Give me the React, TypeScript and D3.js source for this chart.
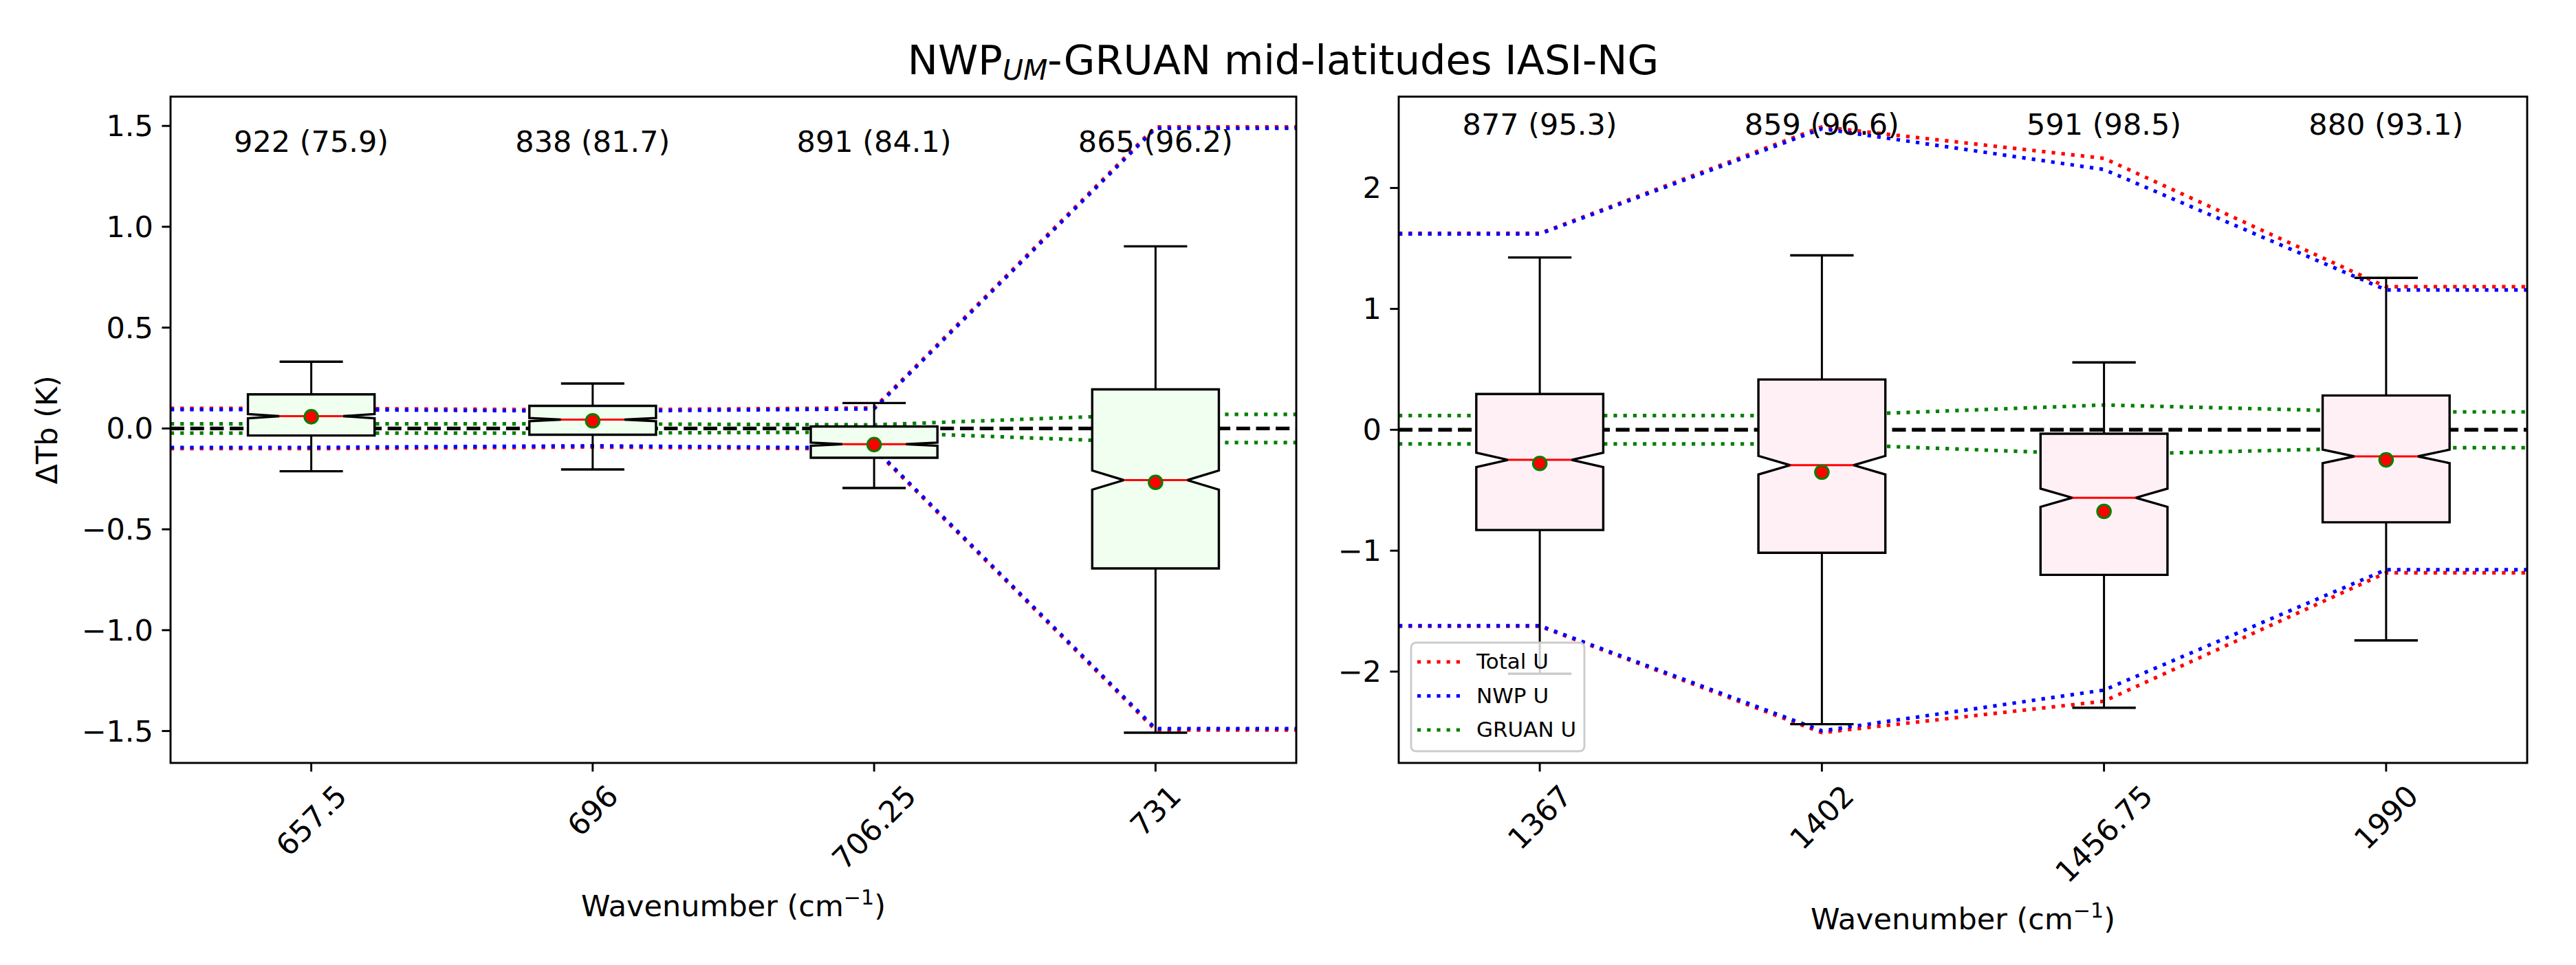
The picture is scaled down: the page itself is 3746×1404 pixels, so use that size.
import React from 'react';
import * as d3 from 'd3';

// ---------------- data ----------------
const leftCategories = ['657.5', '696', '706.25', '731'];
const leftCounts = [922, 838, 891, 865];
const leftPercent = [75.9, 81.7, 84.1, 96.2];
const leftWhiskerHigh = [0.331, 0.223, 0.126, 0.903];
const leftQ3 = [0.169, 0.112, 0.01, 0.194];
const leftMedian = [0.061, 0.044, -0.078, -0.256];
const leftMean = [0.058, 0.038, -0.08, -0.267];
const leftQ1 = [-0.035, -0.031, -0.145, -0.694];
const leftWhiskerLow = [-0.212, -0.203, -0.295, -1.508];
const leftTotalU = [0.1, 0.092, 0.102, 1.495];
const leftNwpU = [0.094, 0.086, 0.097, 1.488];
const leftGruanU = [0.023, 0.023, 0.018, 0.07];
const leftYTicks = [-1.5, -1.0, -0.5, 0.0, 0.5, 1.0, 1.5];

const rightCategories = ['1367', '1402', '1456.75', '1990'];
const rightCounts = [877, 859, 591, 880];
const rightPercent = [95.3, 96.6, 98.5, 93.1];
const rightWhiskerHigh = [1.425, 1.443, 0.557, 1.257];
const rightQ3 = [0.296, 0.416, -0.032, 0.284];
const rightMedian = [-0.249, -0.293, -0.562, -0.22];
const rightMean = [-0.278, -0.351, -0.675, -0.249];
const rightQ1 = [-0.829, -1.017, -1.2, -0.765];
const rightWhiskerLow = [-2.018, -2.435, -2.299, -1.742];
const rightTotalU = [1.625, 2.505, 2.245, 1.183];
const rightNwpU = [1.62, 2.49, 2.153, 1.157];
const rightGruanU = [0.117, 0.117, 0.205, 0.148];
const rightYTicks = [-2, -1, 0, 1, 2];

const titleMain = 'NWP';
const titleSub = 'UM';
const titleRest = '-GRUAN mid-latitudes IASI-NG';
const xLabelText = 'Wavenumber (cm';
const yLabelText = '\u0394Tb (K)';
const legendLabels = ['Total U', 'NWP U', 'GRUAN U'];

// ---------------- styling ----------------
const FONT = '"DejaVu Sans", Verdana, sans-serif';
const TICK_FS = 43;
const W = 3746;
const H = 1404;
const TOP = 140.6;
const BOTTOM = 1110;
const TICK_LEN = 12.6;
const TICK_PAD = 12.6;
const SPINE_W = 2.9;
const COL_TOTAL = '#ff0000';
const COL_NWP = '#0000ff';
const COL_GRUAN = '#008000';
const DOT = '5.2 9.0';

let _canvas: HTMLCanvasElement | null = null;
function textWidth(s: string, size: number): number {
  if (typeof document === 'undefined') return s.length * size * 0.6;
  if (!_canvas) _canvas = document.createElement('canvas');
  const ctx = _canvas.getContext('2d');
  if (!ctx) return s.length * size * 0.6;
  ctx.font = `${size}px "DejaVu Sans"`;
  return ctx.measureText(s).width;
}

const minus = (s: string) => s.replace(/-/g, '\u2212');

type PanelProps = {
  id: string;
  x0: number;
  x1: number;
  cats: string[];
  counts: number[];
  pct: number[];
  wh: number[];
  q3: number[];
  med: number[];
  mean: number[];
  q1: number[];
  wl: number[];
  total: number[];
  nwp: number[];
  gruan: number[];
  yTicks: number[];
  yFmt: (v: number) => string;
  fill: string;
  annotY: number;
  showYLabel: boolean;
  showLegend: boolean;
};

function Panel(p: PanelProps) {
  const x = d3.scaleLinear().domain([0.5, 4.5]).range([p.x0, p.x1]);
  const lo = d3.min([...p.wl, ...p.total.map((v) => -v)]) as number;
  const hi = d3.max([...p.wh, ...p.total]) as number;
  const pad = (hi - lo) * 0.05;
  const y = d3.scaleLinear().domain([lo - pad, hi + pad]).range([BOTTOM, TOP]);

  const boxW = 0.45;
  const half = boxW / 2;
  const capHalf = boxW / 4;

  const line = d3
    .line<[number, number]>()
    .x((d) => x(d[0]))
    .y((d) => y(d[1]));
  const pts = (vals: number[], sign: number): [number, number][] => [
    [0.5, sign * vals[0]],
    ...vals.map((v, i) => [i + 1, sign * v] as [number, number]),
    [4.5, sign * vals[vals.length - 1]],
  ];

  const series = [
    { vals: p.total, color: COL_TOTAL },
    { vals: p.nwp, color: COL_NWP },
    { vals: p.gruan, color: COL_GRUAN },
  ];

  const labelWidths = p.cats.map((c) => textWidth(c, TICK_FS));
  const labelTop = BOTTOM + TICK_LEN + TICK_PAD;
  const maxBottom = d3.max(labelWidths.map((w) => labelTop + (w + TICK_FS) / Math.SQRT2)) as number;
  const xLabelY = maxBottom + 61;
  const cx = (p.x0 + p.x1) / 2;

  return (
    <g>
      <defs>
        <clipPath id={`clip-${p.id}`}>
          <rect x={p.x0} y={TOP} width={p.x1 - p.x0} height={BOTTOM - TOP} />
        </clipPath>
      </defs>
      <g clipPath={`url(#clip-${p.id})`}>
        <line x1={p.x0} x2={p.x1} y1={y(0)} y2={y(0)} stroke="#000" strokeWidth={5.4} strokeDasharray="20 8.7" />
        {series.map((s, si) =>
          [1, -1].map((sign) => (
            <path
              key={`${si}-${sign}`}
              d={line(pts(s.vals, sign)) || ''}
              fill="none"
              stroke={s.color}
              strokeWidth={5.2}
              strokeDasharray={DOT}
            />
          ))
        )}
        {p.cats.map((c, i) => {
          const pos = i + 1;
          const iqr = p.q3[i] - p.q1[i];
          const nh = p.med[i] + (1.57 * iqr) / Math.sqrt(p.counts[i]);
          const nl = p.med[i] - (1.57 * iqr) / Math.sqrt(p.counts[i]);
          const L = x(pos - half);
          const R = x(pos + half);
          const mL = x(pos - capHalf);
          const mR = x(pos + capHalf);
          const d = [
            `M${L},${y(p.q1[i])}`,
            `L${R},${y(p.q1[i])}`,
            `L${R},${y(nl)}`,
            `L${mR},${y(p.med[i])}`,
            `L${R},${y(nh)}`,
            `L${R},${y(p.q3[i])}`,
            `L${L},${y(p.q3[i])}`,
            `L${L},${y(nh)}`,
            `L${mL},${y(p.med[i])}`,
            `L${L},${y(nl)}`,
            'Z',
          ].join(' ');
          const xc = x(pos);
          return (
            <g key={c}>
              <line x1={xc} x2={xc} y1={y(p.q3[i])} y2={y(p.wh[i])} stroke="#000" strokeWidth={3} />
              <line x1={xc} x2={xc} y1={y(p.q1[i])} y2={y(p.wl[i])} stroke="#000" strokeWidth={3} />
              <line x1={mL} x2={mR} y1={y(p.wh[i])} y2={y(p.wh[i])} stroke="#000" strokeWidth={3.4} />
              <line x1={mL} x2={mR} y1={y(p.wl[i])} y2={y(p.wl[i])} stroke="#000" strokeWidth={3.4} />
              <path d={d} fill={p.fill} stroke="#000" strokeWidth={3.4} strokeLinejoin="miter" />
              <line x1={mL} x2={mR} y1={y(p.med[i])} y2={y(p.med[i])} stroke="#ff0000" strokeWidth={3} />
              <circle cx={xc} cy={y(p.mean[i])} r={9.8} fill="#ff0000" stroke="#008000" strokeWidth={3} />
            </g>
          );
        })}
      </g>
      {/* annotations */}
      {p.cats.map((c, i) => (
        <text
          key={`ann-${c}`}
          x={x(i + 1)}
          y={y(p.annotY)}
          textAnchor="middle"
          fontFamily={FONT}
          fontSize={TICK_FS}
          fill="#000"
        >
          {`${p.counts[i]} (${p.pct[i].toFixed(1)})`}
        </text>
      ))}
      {/* spines */}
      <rect x={p.x0} y={TOP} width={p.x1 - p.x0} height={BOTTOM - TOP} fill="none" stroke="#000" strokeWidth={SPINE_W} />
      {/* y ticks */}
      {p.yTicks.map((t) => (
        <g key={`yt-${t}`}>
          <line x1={p.x0 - TICK_LEN} x2={p.x0} y1={y(t)} y2={y(t)} stroke="#000" strokeWidth={SPINE_W} />
          <text
            x={p.x0 - TICK_LEN - TICK_PAD}
            y={y(t)}
            textAnchor="end"
            dominantBaseline="central"
            fontFamily={FONT}
            fontSize={TICK_FS}
            fill="#000"
          >
            {minus(p.yFmt(t))}
          </text>
        </g>
      ))}
      {/* x ticks */}
      {p.cats.map((c, i) => {
        const xc = x(i + 1);
        const w = labelWidths[i];
        const cy = labelTop + (w + TICK_FS) / (2 * Math.SQRT2);
        return (
          <g key={`xt-${c}`}>
            <line x1={xc} x2={xc} y1={BOTTOM} y2={BOTTOM + TICK_LEN} stroke="#000" strokeWidth={SPINE_W} />
            <text
              x={0}
              y={0}
              transform={`translate(${xc},${cy}) rotate(-45)`}
              textAnchor="middle"
              dominantBaseline="central"
              fontFamily={FONT}
              fontSize={TICK_FS}
              fill="#000"
            >
              {c}
            </text>
          </g>
        );
      })}
      {/* x label */}
      <text x={cx} y={xLabelY} textAnchor="middle" fontFamily={FONT} fontSize={TICK_FS} fill="#000">
        {xLabelText}
        <tspan fontSize={TICK_FS * 0.7} dy={-17}>{'\u22121'}</tspan>
        <tspan dy={17}>)</tspan>
      </text>
      {p.showYLabel && (
        <text
          transform={`translate(83,${(TOP + BOTTOM) / 2}) rotate(-90)`}
          textAnchor="middle"
          fontFamily={FONT}
          fontSize={TICK_FS}
          fill="#000"
        >
          {yLabelText}
        </text>
      )}
      {p.showLegend && (
        <g>
          <rect
            x={p.x0 + 18}
            y={BOTTOM - 17 - 158}
            width={252}
            height={158}
            rx={7}
            fill="#fff"
            fillOpacity={0.8}
            stroke="#cccccc"
            strokeWidth={2.9}
          />
          {legendLabels.map((lab, i) => {
            const base = BOTTOM - 17 - 158 + 38 + i * 49.5;
            return (
              <g key={lab}>
                <line
                  x1={p.x0 + 27}
                  x2={p.x0 + 91}
                  y1={base - 10}
                  y2={base - 10}
                  stroke={series[i].color}
                  strokeWidth={5.2}
                  strokeDasharray={DOT}
                />
                <text x={p.x0 + 113} y={base} fontFamily={FONT} fontSize={31} fill="#000">
                  {lab}
                </text>
              </g>
            );
          })}
        </g>
      )}
    </g>
  );
}

export default function App() {
  const f1 = d3.format('.1f');
  const f0 = d3.format('d');
  return (
    <div style={{ position: 'absolute', left: 0, top: 0 }}>
      <svg width={W} height={H} viewBox={`0 0 ${W} ${H}`} style={{ display: 'block', background: '#fff' }}>
        <rect x={0} y={0} width={W} height={H} fill="#fff" />
        <text x={1866} y={108} textAnchor="middle" fontFamily={FONT} fontSize={59} fill="#000">
          {titleMain}
          <tspan fontStyle="italic" fontSize={41} dy={8}>{titleSub}</tspan>
          <tspan dy={-8}>{titleRest}</tspan>
        </text>
        <Panel
          id="left"
          x0={248}
          x1={1885}
          cats={leftCategories}
          counts={leftCounts}
          pct={leftPercent}
          wh={leftWhiskerHigh}
          q3={leftQ3}
          med={leftMedian}
          mean={leftMean}
          q1={leftQ1}
          wl={leftWhiskerLow}
          total={leftTotalU}
          nwp={leftNwpU}
          gruan={leftGruanU}
          yTicks={leftYTicks}
          yFmt={(v) => f1(v)}
          fill="#f0fff0"
          annotY={1.37}
          showYLabel={true}
          showLegend={false}
        />
        <Panel
          id="right"
          x0={2034}
          x1={3675}
          cats={rightCategories}
          counts={rightCounts}
          pct={rightPercent}
          wh={rightWhiskerHigh}
          q3={rightQ3}
          med={rightMedian}
          mean={rightMean}
          q1={rightQ1}
          wl={rightWhiskerLow}
          total={rightTotalU}
          nwp={rightNwpU}
          gruan={rightGruanU}
          yTicks={rightYTicks}
          yFmt={(v) => f0(v)}
          fill="#fff0f5"
          annotY={2.44}
          showYLabel={false}
          showLegend={true}
        />
      </svg>
    </div>
  );
}
